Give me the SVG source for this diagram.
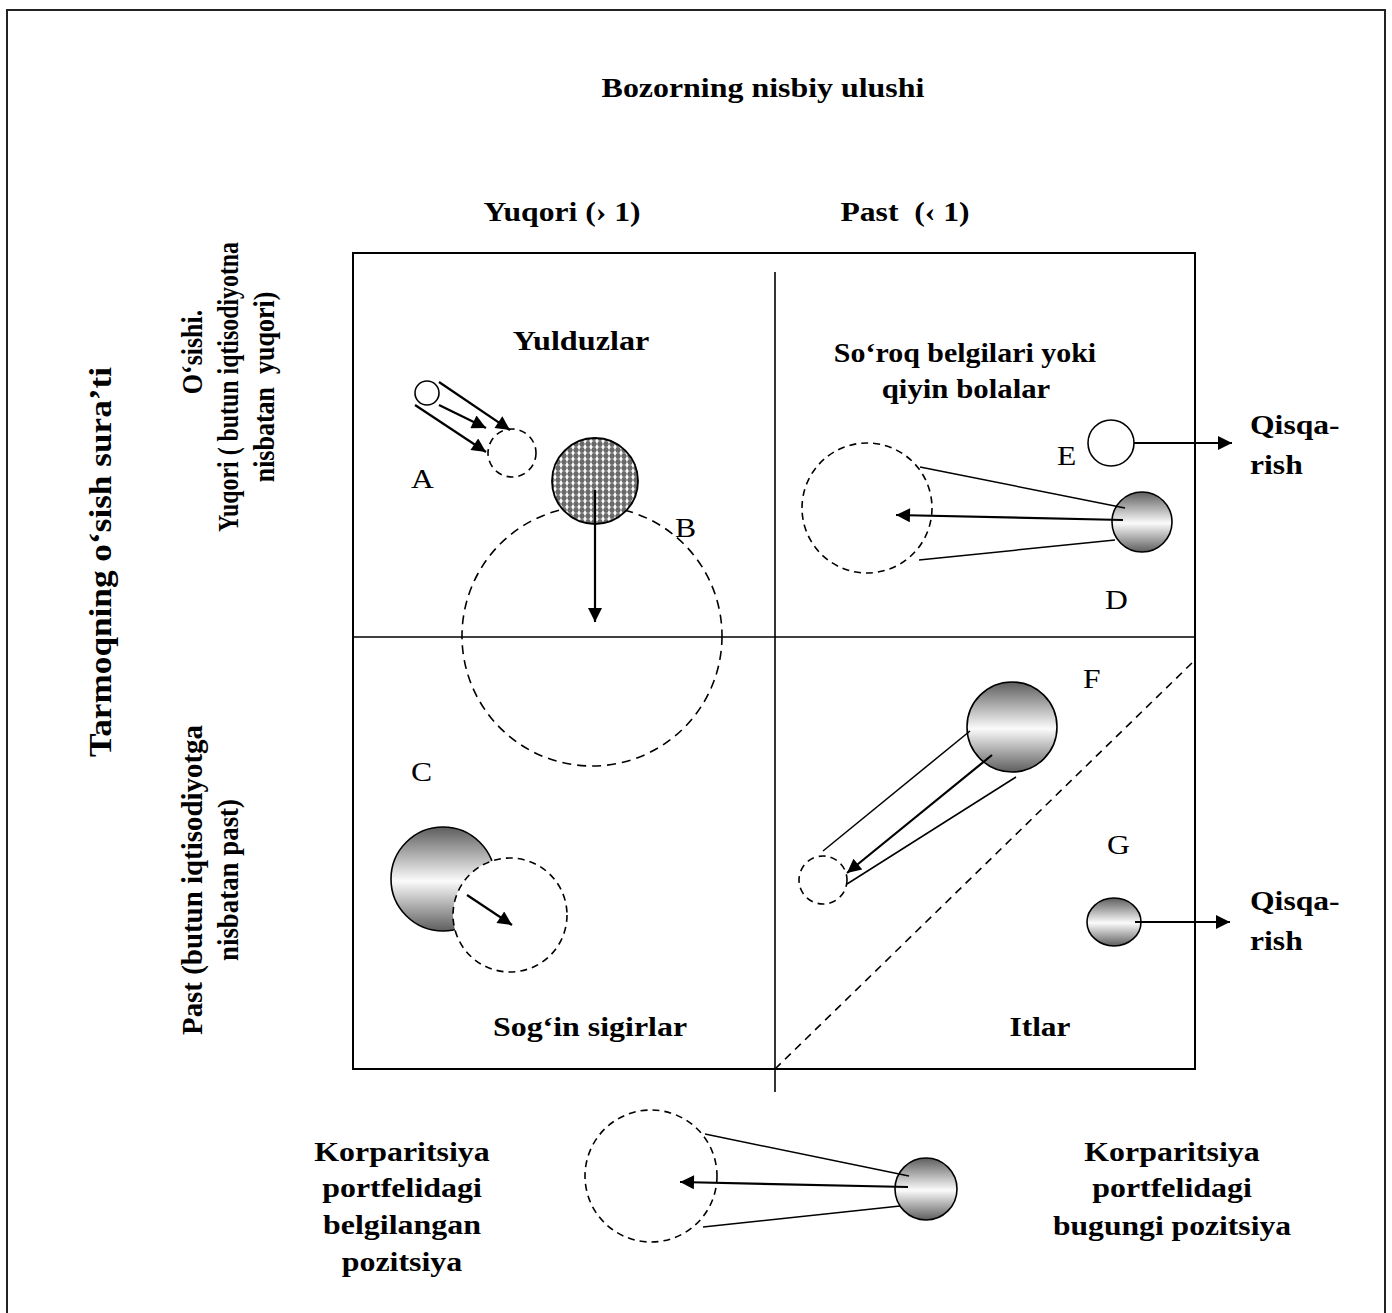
<svg xmlns="http://www.w3.org/2000/svg" width="1392" height="1313" viewBox="0 0 1392 1313">
<style>
.t{font-family:"Liberation Serif","Times New Roman",serif;font-weight:bold;font-size:28px;fill:#000}
.r{font-family:"Liberation Serif","Times New Roman",serif;font-size:28px;fill:#000}
.v{font-family:"Liberation Serif","Times New Roman",serif;font-weight:bold;font-size:26px;fill:#000}
.m{text-anchor:middle}
.ln{stroke:#000;stroke-width:1.5;fill:none}
.ar{stroke:#000;stroke-width:2.2;fill:none;marker-end:url(#ah)}
.dc{stroke:#000;stroke-width:1.6;stroke-dasharray:7 5;fill:none}
.gc{stroke:#000;stroke-width:1.6;fill:url(#gr)}
</style>
<defs>
<linearGradient id="gr" x1="0" y1="0" x2="0" y2="1">
<stop offset="0" stop-color="#5e5e5e"/>
<stop offset="0.52" stop-color="#fbfbfb"/>
<stop offset="1" stop-color="#5e5e5e"/>
</linearGradient>
<pattern id="pt" width="6" height="6" patternUnits="userSpaceOnUse">
<rect width="6" height="6" fill="#6a6a6a"/>
<path d="M3 0.8 L4.1 3 L3 5.2 L1.9 3Z M0.6 3 L5.4 3 M3 0.4 L3 5.6" fill="#fff" stroke="#fff" stroke-width="0.7"/>
</pattern>
<marker id="ah" viewBox="0 0 10 10" refX="10" refY="5" markerWidth="19" markerHeight="14" markerUnits="userSpaceOnUse" orient="auto">
<path d="M0 0 L10 5 L0 10Z" fill="#000"/>
</marker>
</defs>
<rect width="1392" height="1313" fill="#fff"/>
<rect x="7" y="10" width="1378" height="1320" fill="none" stroke="#222" stroke-width="2"/>

<g id="axes">
<rect x="353" y="253" width="842" height="816" fill="none" stroke="#000" stroke-width="2"/>
<line x1="775" y1="272" x2="775" y2="1092" stroke="#000" stroke-width="1.6"/>
<line x1="353" y1="637" x2="1195" y2="637" stroke="#000" stroke-width="1.6"/>
<line x1="775" y1="1069" x2="1195" y2="660" class="dc" stroke-width="1.4" style="stroke-dasharray:8 6"/>
</g>

<g id="labels">
<text class="t m" transform="translate(763,97) scale(1.14,1)">Bozorning nisbiy ulushi</text>
<text class="t m" transform="translate(562,221) scale(1.13,1)">Yuqori (› 1)</text>
<text class="t m" transform="translate(905,221) scale(1.13,1)" xml:space="preserve">Past  (‹ 1)</text>
<text class="t m" transform="translate(581,350) scale(1.15,1)">Yulduzlar</text>
<text class="t m" transform="translate(965,362) scale(1.07,1)">So‘roq belgilari yoki</text>
<text class="t m" transform="translate(966,398) scale(1.1,1)">qiyin bolalar</text>
<text class="t m" transform="translate(590,1036) scale(1.14,1)">Sog‘in sigirlar</text>
<text class="t m" transform="translate(1040,1036) scale(1.12,1)">Itlar</text>
<text class="t" transform="translate(1250,434) scale(1.13,1)">Qisqa-</text>
<text class="t" transform="translate(1250,474) scale(1.13,1)">rish</text>
<text class="t" transform="translate(1250,910) scale(1.13,1)">Qisqa-</text>
<text class="t" transform="translate(1250,950) scale(1.13,1)">rish</text>
<text class="t m" transform="translate(402,1161) scale(1.14,1)">Korparitsiya</text>
<text class="t m" transform="translate(402,1197) scale(1.14,1)">portfelidagi</text>
<text class="t m" transform="translate(402,1234) scale(1.14,1)">belgilangan</text>
<text class="t m" transform="translate(402,1271) scale(1.14,1)">pozitsiya</text>
<text class="t m" transform="translate(1172,1161) scale(1.14,1)">Korparitsiya</text>
<text class="t m" transform="translate(1172,1197) scale(1.14,1)">portfelidagi</text>
<text class="t m" transform="translate(1172,1235) scale(1.13,1)">bugungi pozitsiya</text>
<text class="v m" transform="translate(111,562) rotate(-90) scale(1,1.14)" textLength="390" lengthAdjust="spacingAndGlyphs" style="font-size:28px">Tarmoqning o‘sish sura’ti</text>
<text class="v m" transform="translate(202,352) rotate(-90) scale(1,1.14)">O‘sishi.</text>
<text class="v m" transform="translate(238,387) rotate(-90) scale(1,1.14)" textLength="290" lengthAdjust="spacingAndGlyphs">Yuqori ( butun iqtisodiyotna</text>
<text class="v m" transform="translate(274,387) rotate(-90) scale(1,1.14)" xml:space="preserve">nisbatan  yuqori)</text>
<text class="v m" transform="translate(202,880) rotate(-90) scale(1,1.14)" textLength="310" lengthAdjust="spacingAndGlyphs">Past (butun iqtisodiyotga</text>
<text class="v m" transform="translate(238,880) rotate(-90) scale(1,1.14)" textLength="162" lengthAdjust="spacingAndGlyphs">nisbatan past)</text>
<text class="r" transform="translate(411,488) scale(1.13,1)">A</text>
<text class="r" transform="translate(675,537) scale(1.13,1)">B</text>
<text class="r" transform="translate(411,781) scale(1.13,1)">C</text>
<text class="r" transform="translate(1105,609) scale(1.13,1)">D</text>
<text class="r" transform="translate(1057,465) scale(1.13,1)">E</text>
<text class="r" transform="translate(1083,688) scale(1.13,1)">F</text>
<text class="r" transform="translate(1107,854) scale(1.13,1)">G</text>
</g>

<g id="node-A">
<circle cx="427" cy="393" r="12" fill="#fff" stroke="#000" stroke-width="1.6"/>
<circle cx="512" cy="453" r="24" class="dc"/>
</g>
<g id="node-B">
<circle cx="592" cy="636" r="130" class="dc" style="stroke-dasharray:9 6"/>
<circle cx="595" cy="481" r="43" fill="url(#pt)" stroke="#000" stroke-width="1.8"/>
</g>
<g id="node-C">
<circle cx="443" cy="879" r="52" class="gc"/>
<circle cx="510" cy="915" r="57" class="dc" style="fill:#fff"/>
</g>
<g id="node-D">
<circle cx="867" cy="508" r="65" class="dc"/>
<circle cx="1142" cy="522" r="30" class="gc"/>
</g>
<g id="node-E">
<circle cx="1111" cy="443" r="23" fill="#fff" stroke="#000" stroke-width="1.6"/>
</g>
<g id="node-F">
<circle cx="823" cy="880" r="24" class="dc"/>
<circle cx="1012" cy="727" r="45" class="gc"/>
</g>
<g id="node-G">
<ellipse cx="1114" cy="922" rx="27" ry="24" class="gc"/>
</g>
<g id="node-legend">
<circle cx="651" cy="1176" r="66" class="dc"/>
<circle cx="926" cy="1189" r="31" class="gc"/>
</g>

<g id="connectors">
<line x1="439" y1="382" x2="510" y2="430" class="ar"/>
<line x1="439" y1="405" x2="486" y2="428" class="ar"/>
<line x1="415" y1="405" x2="486" y2="452" class="ar"/>
<line x1="595" y1="490" x2="595" y2="622" class="ar"/>
<line x1="467" y1="895" x2="512" y2="925" class="ar"/>
<line x1="920" y1="467" x2="1125" y2="508" class="ln"/>
<line x1="919" y1="560" x2="1115" y2="540" class="ln"/>
<line x1="1123" y1="520" x2="896" y2="515" class="ar"/>
<line x1="1134" y1="443" x2="1232" y2="443" class="ar"/>
<line x1="970" y1="731" x2="823" y2="851" class="ln"/>
<line x1="1016" y1="777" x2="847" y2="884" class="ln"/>
<line x1="992" y1="755" x2="847" y2="873" class="ar"/>
<line x1="1135" y1="922" x2="1230" y2="922" class="ar"/>
<line x1="705" y1="1134" x2="909" y2="1176" class="ln"/>
<line x1="703" y1="1227" x2="900" y2="1206" class="ln"/>
<line x1="908" y1="1187" x2="680" y2="1182" class="ar"/>
</g>
</svg>
